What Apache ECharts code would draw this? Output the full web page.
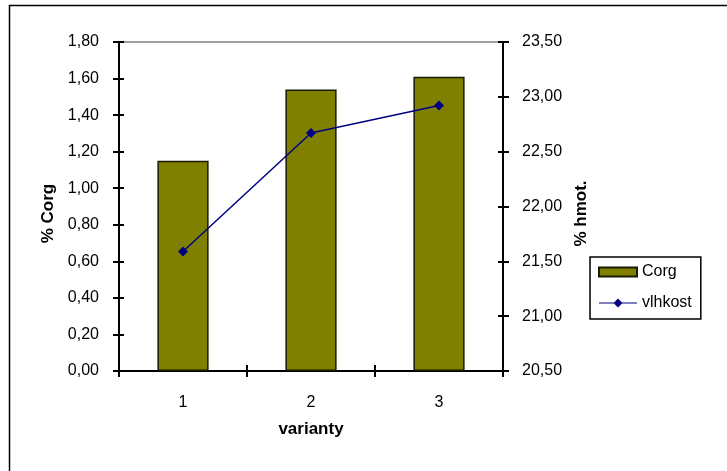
<!DOCTYPE html>
<html>
<head>
<meta charset="utf-8">
<script src="https://cdn.jsdelivr.net/npm/echarts@6/dist/echarts.min.js"></script>
<style>
  html, body { margin: 0; padding: 0; background: #fff; }
  #chart { width: 727px; height: 471px; }
</style>
</head>
<body>
<div id="chart"></div>
<script>
// Variants on the category axis
var categories = ['1', '2', '3'];
// Organic carbon content (% Corg), left axis
var corgValues = [1.15, 1.54, 1.61];
// Moisture (% hmot.), right axis
var moistureValues = [21.59, 22.67, 22.92];
// Axis ranges
var leftAxis = { min: 0, max: 1.8, interval: 0.2 };
var rightAxis = { min: 20.5, max: 23.5, interval: 0.5 };

var FONT = '"Liberation Sans", Arial, sans-serif';
var comma = function (v) { return v.toFixed(2).replace('.', ','); };

var chart = echarts.init(document.getElementById('chart'), null, { renderer: 'canvas' });

function valueAxis(range, position, withLabels, inside) {
  return {
    type: 'value',
    position: position,
    min: range.min,
    max: range.max,
    interval: range.interval,
    splitLine: { show: false },
    axisLine: { show: withLabels, lineStyle: { color: '#000', width: 2 } },
    axisTick: { show: true, inside: inside, length: inside ? 5 : 6, lineStyle: { color: '#000', width: 2 } },
    axisLabel: {
      show: withLabels,
      formatter: comma,
      color: '#000',
      fontFamily: FONT,
      fontSize: 16,
      margin: position === 'left' ? 20 : 19
    }
  };
}

var yLeft = valueAxis(leftAxis, 'left', true, false);
yLeft.name = '% Corg';
yLeft.nameLocation = 'middle';
yLeft.nameRotate = 90;
yLeft.nameGap = 62;
yLeft.nameTextStyle = { fontFamily: FONT, fontSize: 17, fontWeight: 'bold', color: '#000', padding: [0, 14, 0, 0] };

var yRight = valueAxis(rightAxis, 'right', true, false);
yRight.name = '% hmot.';
yRight.nameLocation = 'middle';
yRight.nameRotate = 90;
yRight.nameGap = 70;
yRight.nameTextStyle = { fontFamily: FONT, fontSize: 17, fontWeight: 'bold', color: '#000', padding: [0, 14, 0, 0] };

// legend key for the line series: a thin line with a diamond in the middle
var lineKeyIcon = 'path://M0,4 L38,4 L38,5 L0,5 Z M19,0 L23.5,4.5 L19,9 L14.5,4.5 Z';

var option = {
  animation: false,
  backgroundColor: '#fff',
  graphic: [{
    type: 'rect',
    shape: { x: 9.5, y: 5.5, width: 760, height: 520 },
    style: { fill: 'none', stroke: '#000', lineWidth: 1.5 },
    z: 100
  }],
  grid: {
    left: 119, right: 224, top: 42, bottom: 100,
    show: true, borderColor: '#808080', borderWidth: 1.5, backgroundColor: 'transparent'
  },
  legend: {
    orient: 'vertical',
    left: 590, top: 257,
    padding: [7, 9, 8, 8],
    borderColor: '#000', borderWidth: 1.5,
    itemWidth: 38, itemHeight: 9, itemGap: 15, itemTextGap: 5,
    textStyle: { fontFamily: FONT, fontSize: 16, color: '#000', lineHeight: 16 },
    data: [
      { name: 'Corg', icon: 'rect' },
      { name: 'vlhkost', icon: lineKeyIcon, itemStyle: { color: '#000080', borderWidth: 0 } }
    ]
  },
  xAxis: [{
    type: 'category',
    data: categories,
    boundaryGap: true,
    name: 'varianty',
    nameLocation: 'middle',
    nameGap: 50,
    nameTextStyle: { fontFamily: FONT, fontSize: 17, fontWeight: 'bold', color: '#000' },
    axisLine: { lineStyle: { color: '#000', width: 2 } },
    axisTick: { show: true, alignWithLabel: false, length: 6, lineStyle: { color: '#000', width: 2 } },
    axisLabel: { color: '#000', fontFamily: FONT, fontSize: 16, margin: 24 },
    splitLine: { show: false }
  }, {
    // inner half of the crossing ticks
    type: 'category',
    data: categories,
    position: 'bottom',
    boundaryGap: true,
    axisLine: { show: false },
    axisTick: { show: true, inside: true, alignWithLabel: false, length: 6, lineStyle: { color: '#000', width: 2 } },
    axisLabel: { show: false },
    splitLine: { show: false }
  }],
  yAxis: [
    yLeft,
    yRight,
    valueAxis(leftAxis, 'left', false, true),
    valueAxis(rightAxis, 'right', false, true)
  ],
  series: [{
    name: 'Corg',
    type: 'bar',
    xAxisIndex: 0,
    yAxisIndex: 0,
    data: corgValues,
    barCategoryGap: '60%',
    itemStyle: { color: '#808000', borderColor: '#1a1a00', borderWidth: 1.5 }
  }, {
    name: 'vlhkost',
    type: 'line',
    xAxisIndex: 0,
    yAxisIndex: 1,
    data: moistureValues,
    symbol: 'diamond',
    symbolSize: 10,
    lineStyle: { color: '#000080', width: 1.5 },
    itemStyle: { color: '#000080' },
    z: 5
  }]
};

chart.setOption(option);
</script>
</body>
</html>
